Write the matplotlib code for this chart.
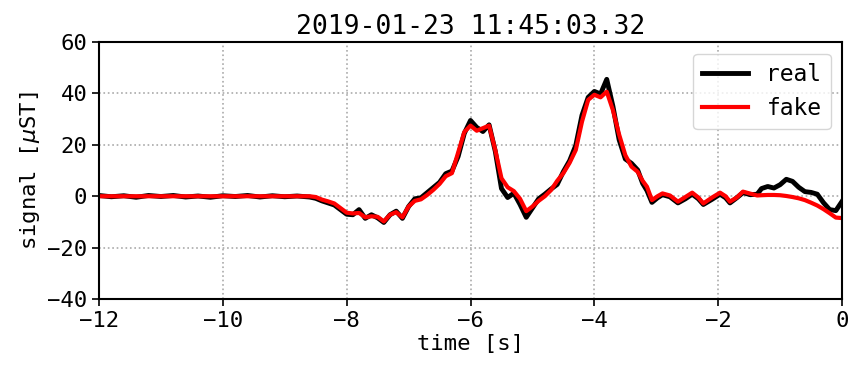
import numpy as np
import matplotlib
matplotlib.use("Agg")
import matplotlib.pyplot as plt

plt.rcParams['font.family'] = ['DejaVu Sans Mono']
plt.rcParams['font.size'] = 16

title = "2019-01-23 11:45:03.32"

# time knots [s]
t_flat = [-12.0, -11.8, -11.6, -11.4, -11.2, -11.0, -10.8, -10.6, -10.4, -10.2,
          -10.0, -9.8, -9.6, -9.4, -9.2, -9.0, -8.8, -8.6]
t_event = [-8.5, -8.4, -8.3, -8.2, -8.1, -8.0, -7.9, -7.8, -7.7, -7.6,
           -7.5, -7.4, -7.3, -7.2, -7.1, -7.0, -6.9, -6.8, -6.7, -6.6,
           -6.5, -6.4, -6.3, -6.2, -6.1, -6.0, -5.9, -5.8, -5.7, -5.6,
           -5.5, -5.4, -5.3, -5.2, -5.1, -5.0, -4.9, -4.8, -4.7, -4.6,
           -4.5, -4.4, -4.3, -4.2, -4.1, -4.0, -3.9, -3.8, -3.7, -3.6,
           -3.5, -3.4, -3.3]
t_wave = [-3.22, -3.15, -3.07, -2.98, -2.90, -2.78, -2.65, -2.53, -2.42, -2.32,
          -2.24, -2.10, -1.97, -1.88, -1.81, -1.70, -1.60, -1.48, -1.37]
t_tail = [-1.3, -1.2, -1.1, -1.0, -0.9, -0.8, -0.7, -0.6, -0.5, -0.4,
          -0.3, -0.2, -0.1, 0.0]

real_flat = [0.3, -0.2, 0.2, -0.4, 0.3, -0.1, 0.3, -0.3, 0.1, -0.4,
             0.2, -0.1, 0.3, -0.3, 0.2, -0.2, 0.1, -0.3]
real_event = [-0.8, -1.8, -2.6, -3.4, -5.2, -7.0, -7.2, -5.2, -8.6, -7.2,
              -8.4, -10.2, -7.2, -5.8, -8.6, -4.0, -1.0, -0.6, 1.4, 3.4,
              5.4, 8.8, 9.8, 15.5, 24.5, 29.5, 26.8, 25.2, 27.8, 17.5,
              3.0, -0.5, 1.2, -3.2, -8.2, -4.6, -1.0, 0.8, 2.8, 4.6,
              9.6, 13.8, 19.8, 31.5, 38.5, 40.8, 39.8, 45.5, 35.0, 22.0,
              14.5, 12.8, 10.2]
real_wave = [5.0, 2.2, -2.4, -0.6, 0.6, -0.2, -2.6, -1.0, 0.8, -1.0,
             -3.2, -1.2, 0.8, -0.6, -2.6, -0.6, 1.4, 0.6, 0.8]
real_tail = [3.0, 3.8, 3.2, 4.5, 6.6, 5.8, 3.5, 1.8, 1.5, 0.8,
             -2.5, -5.2, -5.6, -2.0]

fake_flat = [0.0] * 18
fake_event = [-0.3, -1.3, -2.0, -2.8, -4.6, -6.4, -6.7, -6.5, -8.2, -7.8,
              -8.0, -9.8, -7.2, -6.2, -8.2, -4.0, -1.8, -1.2, 0.5, 2.5,
              4.8, 7.8, 9.0, 17.0, 25.0, 27.5, 25.5, 26.5, 27.5, 18.0,
              7.0, 3.5, 2.0, -1.0, -5.8, -4.0, -1.8, 0.0, 2.4, 6.0,
              9.0, 13.0, 18.0, 29.0, 37.5, 39.5, 38.5, 40.7, 33.5, 24.0,
              16.0, 11.5, 9.5]
fake_wave = [6.0, 3.7, -1.5, 0.0, 1.1, 0.3, -2.1, -0.3, 1.4, -0.5,
             -2.8, -0.5, 1.4, 0.0, -2.1, -0.5, 1.8, 1.0, 0.3]
fake_tail = [0.4, 0.5, 0.5, 0.4, 0.1, -0.3, -0.8, -1.5, -2.5, -3.6,
             -5.0, -6.6, -8.3, -8.5]

time = t_flat + t_event + t_wave + t_tail
real = real_flat + real_event + real_wave + real_tail
fake = fake_flat + fake_event + fake_wave + fake_tail

fig = plt.figure(figsize=(8.49, 3.66), dpi=100)
ax = fig.add_axes([0.1166, 0.183, 0.8752, 0.702])

ax.plot(time, real, color="black", lw=3.5, label="real")
ax.plot(time, fake, color="red", lw=3, label="fake")

ax.set_xlim(-12, 0)
ax.set_ylim(-40, 60)
ax.set_xticks([-12, -10, -8, -6, -4, -2, 0])
ax.set_yticks([-40, -20, 0, 20, 40, 60])
ax.grid(True, linestyle=":", color="#aaaaaa", lw=1.2)
for s in ax.spines.values():
    s.set_linewidth(1.5)
ax.tick_params(width=1.2, length=5)

ax.set_xlabel("time [s]", labelpad=2)
ax.set_ylabel(r"signal [$\mu$ST]")
ax.set_title(title, fontsize=19)
ax.legend(loc="upper right", fontsize=16.5)

fig.savefig("out.png", dpi=100)
